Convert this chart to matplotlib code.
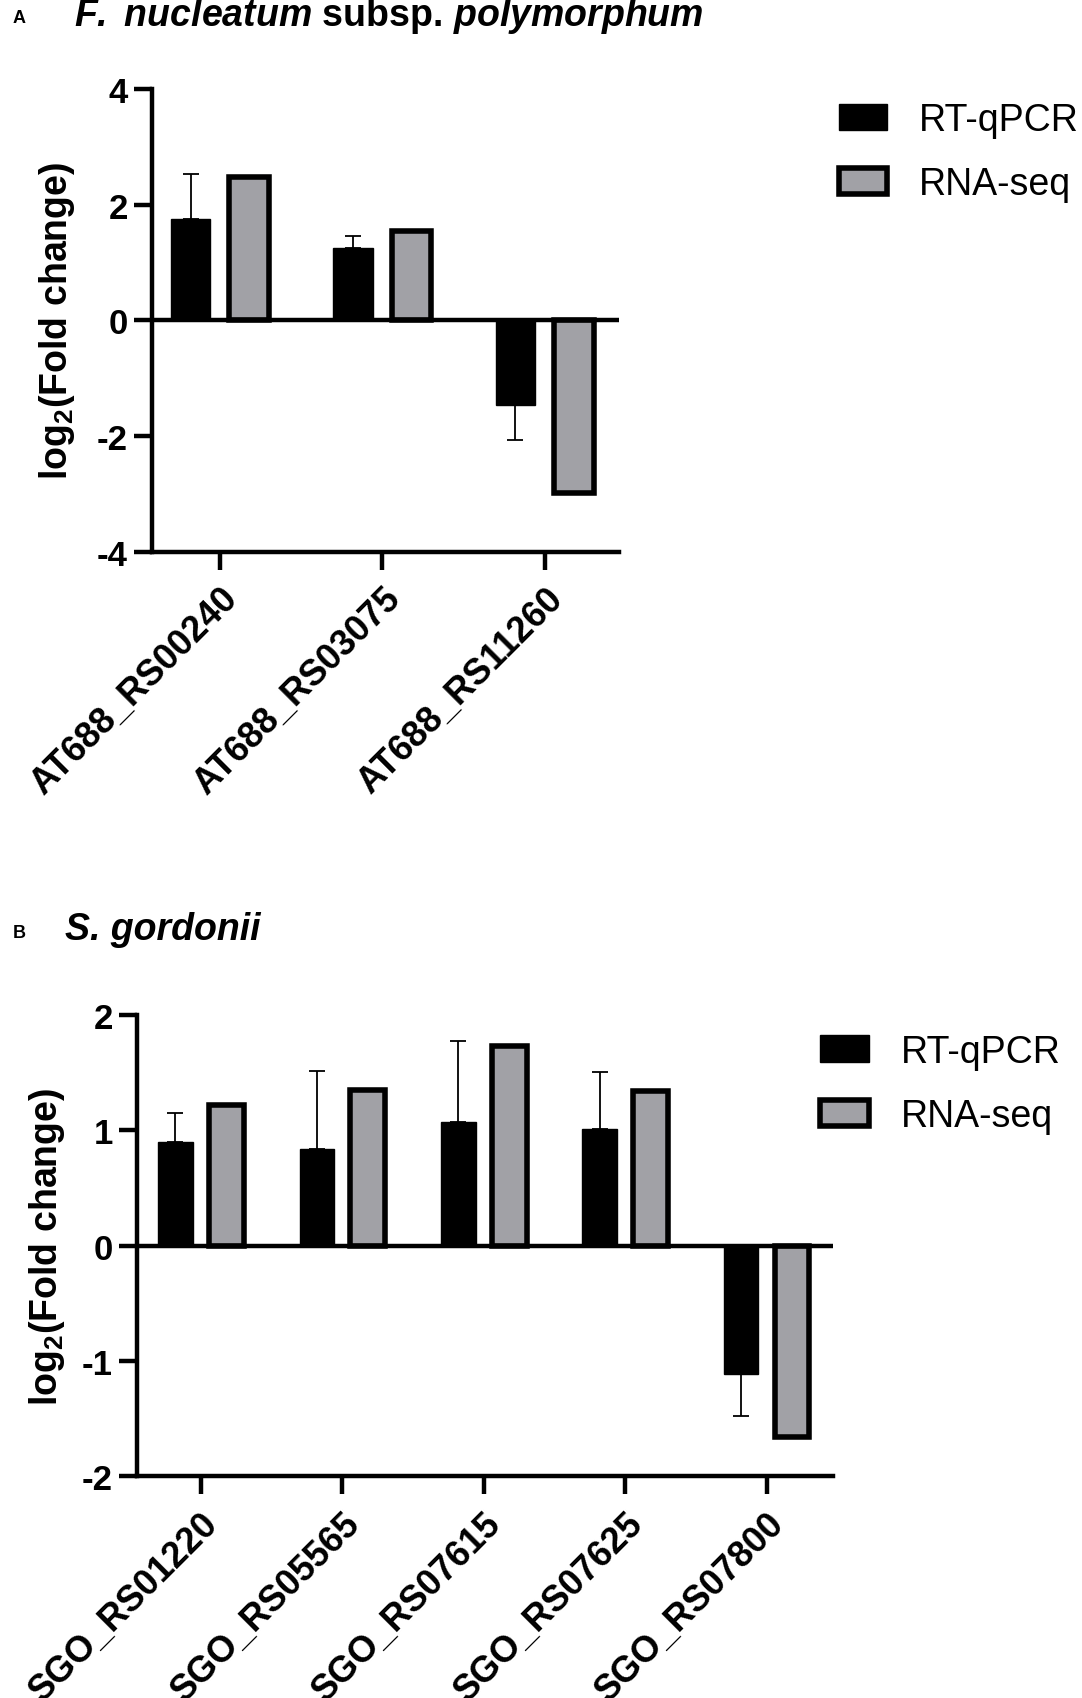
import numpy as np
import matplotlib
matplotlib.use("Agg")
import matplotlib.pyplot as plt

plt.rcParams['font.family'] = ['Liberation Sans', 'DejaVu Sans']
plt.rcParams['axes.unicode_minus'] = False
plt.rcParams['mathtext.fontset'] = 'custom'
plt.rcParams['mathtext.rm'] = 'Liberation Sans'
plt.rcParams['mathtext.it'] = 'Liberation Sans:italic'
plt.rcParams['mathtext.bf'] = 'Liberation Sans:bold'
plt.rcParams['mathtext.bfit'] = 'Liberation Sans:italic:bold'

# panel A data
genes_a = ["AT688_RS00240", "AT688_RS03075", "AT688_RS11260"]
rtqpcr_a = [1.75, 1.25, -1.47]
rtqpcr_err_a = [0.78, 0.21, 0.60]
rnaseq_a = [2.47, 1.54, -2.98]

# panel B data
genes_b = ["SGO_RS01220", "SGO_RS05565", "SGO_RS07615", "SGO_RS07625", "SGO_RS07800"]
rtqpcr_b = [0.90, 0.84, 1.07, 1.01, -1.12]
rtqpcr_err_b = [0.25, 0.68, 0.71, 0.50, 0.36]
rnaseq_b = [1.22, 1.35, 1.73, 1.34, -1.66]

GRAY = '#a1a1a6'


def draw_panel(ax, genes, rt, rt_err, rna, yticks, xlim, leg_anchor):
    x = np.arange(len(genes))
    w = 0.245
    off = 0.18
    rt = np.array(rt)
    err = np.array(rt_err)
    # one-sided error bars, pointing away from zero
    lower = np.where(rt < 0, err, 0)
    upper = np.where(rt >= 0, err, 0)
    ax.errorbar(x - off, rt, yerr=[lower, upper], fmt='none', ecolor='black',
                elinewidth=1.3, capsize=6, capthick=1.3, zorder=1)
    ax.bar(x - off, rt, w, color='black', edgecolor='black', linewidth=1,
           label='RT-qPCR', zorder=2)
    ax.bar(x + off, rna, w, color=GRAY, edgecolor='black', linewidth=4,
           label='RNA-seq', zorder=2)
    ax.axhline(0, color='black', lw=3.2, zorder=3)

    ax.set_xlim(*xlim)
    ax.set_ylim(yticks[0], yticks[-1])
    ax.set_yticks(yticks)
    ax.set_xticks(x)
    ax.set_xticklabels(genes, rotation=45, ha='right', va='top',
                       rotation_mode='anchor', fontsize=26, fontweight='bold')
    for t in ax.get_yticklabels():
        t.set_fontsize(25)
        t.set_fontweight('bold')
    for s in ['top', 'right']:
        ax.spines[s].set_visible(False)
    for s in ['left', 'bottom']:
        ax.spines[s].set_linewidth(3.2)
    ax.tick_params(axis='both', direction='out', length=13, width=3.2, pad=4)
    ax.tick_params(axis='x', pad=8)
    ax.set_ylabel(r'log$_\mathbf{2}$(Fold change)', fontsize=27, fontweight='bold')

    ax.legend(loc='upper left', bbox_to_anchor=leg_anchor,
              bbox_transform=ax.figure.transFigure, frameon=False, fontsize=27,
              handlelength=1.3, handleheight=0.7, handletextpad=0.85,
              labelspacing=0.75, borderaxespad=0, borderpad=0)


fig = plt.figure(figsize=(10.82, 16.99), dpi=100)

ax_a = fig.add_axes([0.1401, 0.6748, 0.4324, 0.2723])
draw_panel(ax_a, genes_a, rtqpcr_a, rtqpcr_err_a, rnaseq_a,
           [-4, -2, 0, 2, 4], (-0.42, 2.46), (0.775, 0.9395))
ax_a.yaxis.set_label_coords(-0.16, 0.5)

ax_b = fig.add_axes([0.1262, 0.1308, 0.6437, 0.2710])
draw_panel(ax_b, genes_b, rtqpcr_b, rtqpcr_err_b, rnaseq_b,
           [-2, -1, 0, 1, 2], (-0.455, 4.47), (0.758, 0.391))
ax_b.yaxis.set_label_coords(-0.10, 0.5)

fig.text(0.012, 0.989, 'A', fontsize=13, fontweight='bold', va='center')
fig.text(0.068, 0.9904, r'$\mathbfit{F.\ nucleatum}$ subsp. $\mathbfit{polymorphum}$',
         fontsize=27, fontweight='bold', va='center')
fig.text(0.012, 0.4503, 'B', fontsize=13, fontweight='bold', va='center')
fig.text(0.060, 0.4528, 'S. gordonii', fontsize=27, fontweight='bold',
         fontstyle='italic', va='center')

fig.savefig('out.png', dpi=100)
